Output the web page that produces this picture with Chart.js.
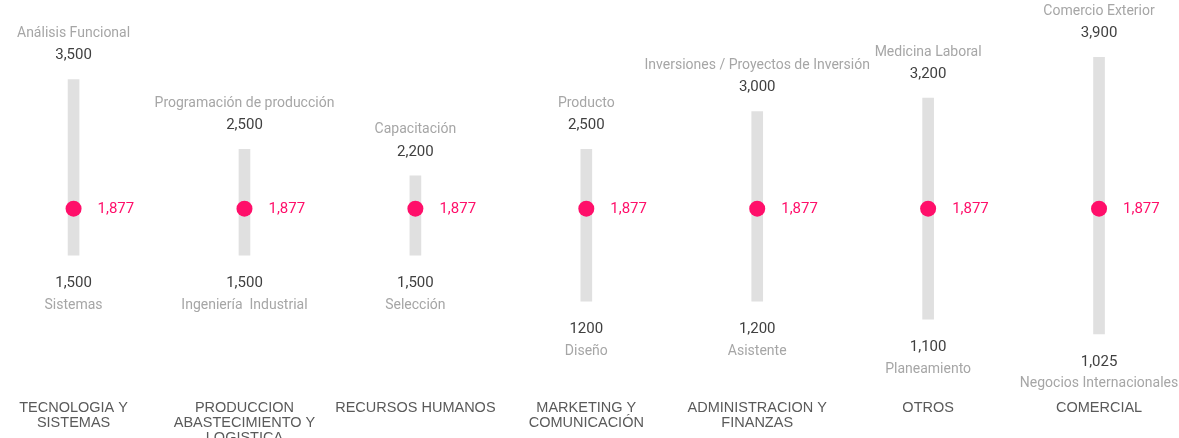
<!DOCTYPE html>
<html>
<head>
<meta charset="utf-8">
<script src="https://cdn.jsdelivr.net/npm/chart.js@4.4.1/dist/chart.umd.min.js"></script>
<style>
  html, body { margin: 0; padding: 0; background: #ffffff; overflow: hidden; }
  #wrap { width: 1179px; height: 438px; }
</style>
</head>
<body>
<div id="wrap"><canvas id="c" width="1179" height="438"></canvas></div>
<script>
// ---- data ----
const categories = [
  ['TECNOLOGIA Y', 'SISTEMAS'],
  ['PRODUCCION', 'ABASTECIMIENTO Y', 'LOGISTICA'],
  ['RECURSOS HUMANOS'],
  ['MARKETING Y', 'COMUNICACIÓN'],
  ['ADMINISTRACION Y', 'FINANZAS'],
  ['OTROS'],
  ['COMERCIAL']
];
const minValues = [1500, 1500, 1500, 1200, 1200, 1100, 1025];
const maxValues = [3500, 2500, 2200, 2500, 3000, 3200, 3900];
const markerValues = [1877, 1877, 1877, 1877, 1877, 1877, 1877];
const minLabels = ['1,500', '1,500', '1,500', '1200', '1,200', '1,100', '1,025'];
const maxLabels = ['3,500', '2,500', '2,200', '2,500', '3,000', '3,200', '3,900'];
const markerLabels = ['1,877', '1,877', '1,877', '1,877', '1,877', '1,877', '1,877'];
const maxRoles = ['Análisis Funcional', 'Programación de producción', 'Capacitación', 'Producto',
  'Inversiones / Proyectos de Inversión', 'Medicina Laboral', 'Comercio Exterior'];
const minRoles = ['Sistemas', 'Ingeniería  Industrial', 'Selección', 'Diseño',
  'Asistente', 'Planeamiento', 'Negocios Internacionales'];

const PINK = '#ff0f6a';

const labelPlugin = {
  id: 'rangeLabels',
  afterDatasetsDraw(chart) {
    const ctx = chart.ctx;
    const xs = chart.scales.x, ys = chart.scales.y;
    ctx.save();
    ctx.textBaseline = 'middle';
    categories.forEach((c, i) => {
      const x = xs.getPixelForValue(i);
      const yTop = ys.getPixelForValue(maxValues[i]);
      const yBot = ys.getPixelForValue(minValues[i]);
      const yDot = ys.getPixelForValue(markerValues[i]);
      ctx.textAlign = 'center';
      ctx.font = '15px Roboto';
      ctx.fillStyle = '#404040';
      ctx.fillText(maxLabels[i], x, yTop - 24);
      ctx.fillText(minLabels[i], x, yBot + 28);
      ctx.font = '14px Roboto';
      ctx.fillStyle = '#a6a6a6';
      ctx.fillText(maxRoles[i], x, yTop - 46);
      ctx.fillText(minRoles[i], x, yBot + 50);
      ctx.textAlign = 'left';
      ctx.font = '15px Roboto';
      ctx.fillStyle = PINK;
      ctx.fillText(markerLabels[i], x + 24, yDot + 1);
    });
    ctx.restore();
  }
};

new Chart(document.getElementById('c'), {
  type: 'bar',
  data: {
    datasets: [
      {
        type: 'line',
        data: markerValues.map((v, i) => ({ x: i, y: v })),
        showLine: false,
        pointRadius: 8,
        pointHoverRadius: 8,
        pointBackgroundColor: PINK,
        pointBorderColor: PINK,
        pointBorderWidth: 0,
        order: 0
      },
      {
        type: 'bar',
        data: minValues.map((v, i) => ({ x: i, y: [v, maxValues[i]] })),
        backgroundColor: '#e0e0e0',
        borderWidth: 0,
        barThickness: 11,
        order: 1
      }
    ]
  },
  options: {
    responsive: false,
    animation: false,
    devicePixelRatio: 1,
    layout: { padding: { top: 52, left: 0, right: 0, bottom: 0 } },
    plugins: { legend: { display: false }, tooltip: { enabled: false } },
    scales: {
      x: {
        type: 'linear',
        offset: false,
        min: -0.3836,
        max: 6.421,
        grid: { display: false, drawTicks: false, offset: false },
        border: { display: false },
        afterBuildTicks: (axis) => { axis.ticks = categories.map((c, i) => ({ value: i })); },
        afterFit: (axis) => { axis.height = 99; axis.paddingLeft = 0; axis.paddingRight = 0; },
        ticks: {
          padding: 61,
          maxRotation: 0,
          autoSkip: false,
          color: '#5a5a5a',
          font: { family: 'Liberation Sans', size: 14.5, lineHeight: '15px' },
          callback: (v) => categories[v]
        }
      },
      y: {
        type: 'logarithmic',
        min: 1000,
        max: 4000,
        display: false
      }
    }
  },
  plugins: [labelPlugin]
});
</script>
</body>
</html>
